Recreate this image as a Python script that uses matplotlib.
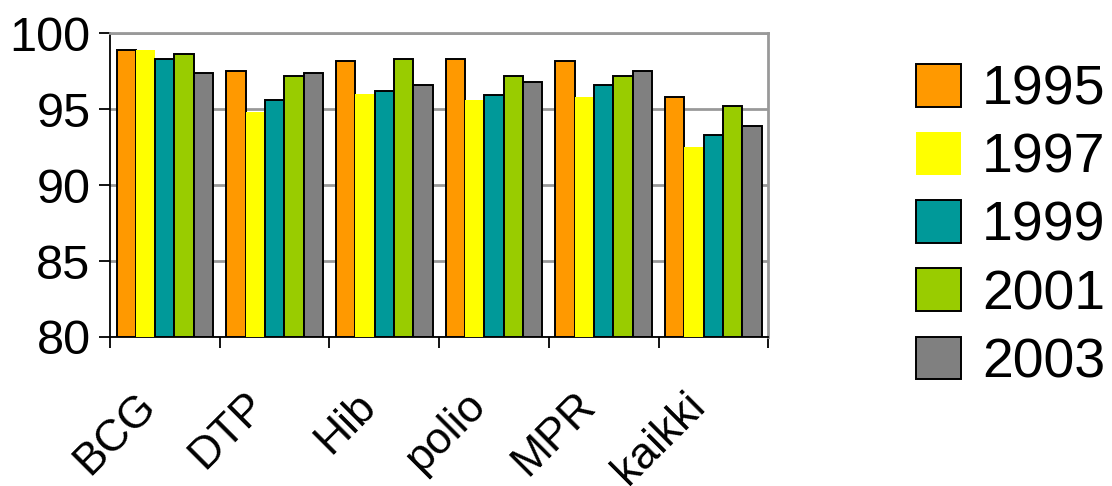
import numpy as np
import matplotlib
matplotlib.use("Agg")
import matplotlib.pyplot as plt
from matplotlib.transforms import ScaledTranslation

plt.rcParams['font.family'] = ['Liberation Sans', 'DejaVu Sans']

# Rokotuskattavuus (%) rokotteittain ja vuosittain
categories = ['BCG', 'DTP', 'Hib', 'polio', 'MPR', 'kaikki']
years = ['1995', '1997', '1999', '2001', '2003']
v1995 = [98.9, 97.5, 98.15, 98.3, 98.15, 95.8]
v1997 = [98.9, 94.8, 96.0, 95.6, 95.8, 92.5]
v1999 = [98.3, 95.6, 96.2, 95.9, 96.6, 93.3]
v2001 = [98.6, 97.2, 98.3, 97.2, 97.2, 95.2]
v2003 = [97.4, 97.4, 96.6, 96.8, 97.5, 93.9]
series = [v1995, v1997, v1999, v2001, v2003]
colors = ['#FF9900', '#FFFF00', '#009999', '#99CC00', '#808080']

fig = plt.figure(figsize=(11.12, 4.86), dpi=100)
ax = fig.add_axes([0.0989, 0.3066, 0.592, 0.6254])

x = np.arange(len(categories))
w = 0.176
for k, (vals, c) in enumerate(zip(series, colors)):
    edge = 'none' if c == '#FFFF00' else 'black'
    ax.bar(x - 2 * w + k * w, np.array(vals) - 80, bottom=80, width=w,
           color=c, edgecolor=edge, linewidth=1.4, label=years[k], zorder=3)

ax.set_ylim(80, 100)
ax.set_xlim(-0.5, len(categories) - 0.5)
ax.set_yticks([80, 85, 90, 95, 100])
ax.yaxis.grid(True, color='#999999', linewidth=2, zorder=0)

ax.set_xticks(x)
ax.set_xticklabels(categories, rotation=45, ha='right', va='center',
                   rotation_mode='anchor', fontsize=32)
ax.tick_params(axis='x', which='major', length=0, pad=45)
# siirretään nimiä hieman vasemmalle
shift = ScaledTranslation(-15 / 100, 0, fig.dpi_scale_trans)
for lab in ax.get_xticklabels():
    lab.set_transform(lab.get_transform() + shift)
ax.set_xticks(np.arange(-0.5, len(categories)), minor=True)
ax.tick_params(axis='x', which='minor', length=8, width=1.3, direction='out')
ax.tick_params(axis='y', length=8, width=1.3, direction='out', pad=6, labelsize=35)

for s in ['top', 'right']:
    ax.spines[s].set_color('#999999')
    ax.spines[s].set_linewidth(2)
for s in ['left', 'bottom']:
    ax.spines[s].set_color('black')
    ax.spines[s].set_linewidth(1.3)

fig.legend(loc='upper left', bbox_to_anchor=(0.824, 0.868), frameon=False,
           fontsize=40, handlelength=0.8, handleheight=0.8, handletextpad=0.38,
           labelspacing=0.28, borderaxespad=0, borderpad=0)

fig.savefig('out.png', dpi=100)
